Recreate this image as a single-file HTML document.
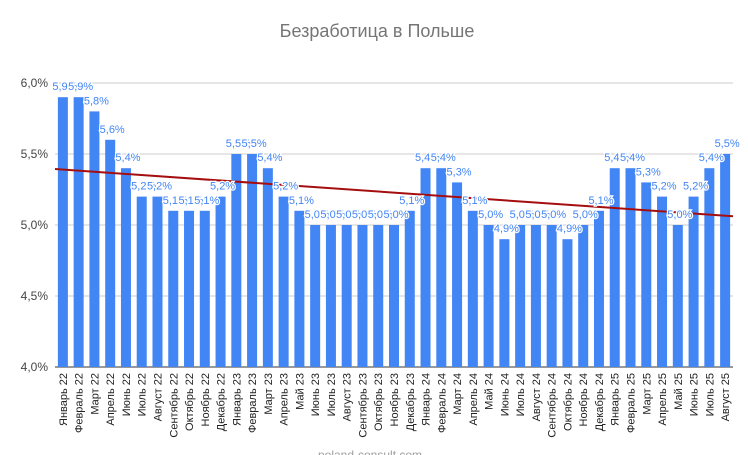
<!DOCTYPE html>
<html><head><meta charset="utf-8"><style>
body{margin:0;background:#fff}
svg{display:block;font-family:"Liberation Sans",Arial,sans-serif}
</style></head><body>
<svg id="c" width="748" height="455">
<text x="377" y="37" text-anchor="middle" font-size="18" fill="#757575">Безработица в Польше</text>
<g id="grid"></g><g id="bars"></g><g id="trend"></g><g id="labels"></g><g id="xl"></g>
<text x="370" y="459" text-anchor="middle" font-size="12" fill="#9e9e9e">poland-consult.com</text>
</svg>
<script>
const categories=["Январь 22","Февраль 22","Март 22","Апрель 22","Июнь 22","Июль 22","Август 22","Сентябрь 22","Октябрь 22","Ноябрь 22","Декабрь 22",
"Январь 23","Февраль 23","Март 23","Апрель 23","Май 23","Июнь 23","Июль 23","Август 23","Сентябрь 23","Октябрь 23","Ноябрь 23","Декабрь 23",
"Январь 24","Февраль 24","Март 24","Апрель 24","Май 24","Июнь 24","Июль 24","Август 24","Сентябрь 24","Октябрь 24","Ноябрь 24","Декабрь 24",
"Январь 25","Февраль 25","Март 25","Апрель 25","Май 25","Июнь 25","Июль 25","Август 25"];
const values=[5.9,5.9,5.8,5.6,5.4,5.2,5.2,5.1,5.1,5.1,5.2,
5.5,5.5,5.4,5.2,5.1,5.0,5.0,5.0,5.0,5.0,5.0,5.1,
5.4,5.4,5.3,5.1,5.0,4.9,5.0,5.0,5.0,4.9,5.0,5.1,
5.4,5.4,5.3,5.2,5.0,5.2,5.4,5.5];
const yTicks=[4.0,4.5,5.0,5.5,6.0];
const NS="http://www.w3.org/2000/svg";
const X0=55,X1=733,Y0=367,Y1=83,yMin=4,yMax=6;
const n=categories.length,step=(X1-X0)/n;
const xS=i=>X0+step*(i+0.5);
const yS=v=>Y0-(v-yMin)/(yMax-yMin)*(Y0-Y1);
const fmt=v=>v.toFixed(1).replace('.',',')+'%';
function mk(t,a,p){const e=document.createElementNS(NS,t);for(const k in a)e.setAttribute(k,a[k]);p.appendChild(e);return e;}
const g=document.getElementById('grid');
yTicks.forEach(t=>{
 const l=mk('line',{x1:X0,x2:X1,y1:yS(t),y2:yS(t),stroke:t===yMin?'#333':'#ccc','stroke-width':1},g);
 
 
 const tx=mk('text',{x:48,y:yS(t)+4,'text-anchor':'end','font-size':12,fill:'#444'},g);
 tx.textContent=fmt(t);
 
 
});
const b=document.getElementById('bars'),lb=document.getElementById('labels'),xl=document.getElementById('xl');
values.forEach((v,i)=>{
 const r=mk('rect',{x:xS(i)-5,y:yS(v),width:10,height:Y0-yS(v),fill:'#4285f4'},b);
 
 
 const t=mk('text',{x:xS(i)+2,y:yS(v)-7,'text-anchor':'middle','font-size':11,fill:'#4285f4',stroke:'#fff','stroke-width':2.5,'paint-order':'stroke'},lb);
 t.textContent=fmt(v);
 
 
 const c=mk('text',{transform:`translate(${xS(i)+4},373) rotate(-90)`,'text-anchor':'end','font-size':11,fill:'#222'},xl);
 c.textContent=categories[i];
 
 
});
// linear trend
let sx=0,sy=0,sxy=0,sxx=0;values.forEach((v,i)=>{sx+=i;sy+=v;sxy+=i*v;sxx+=i*i;});
const m=(n*sxy-sx*sy)/(n*sxx-sx*sx),c0=(sy-m*sx)/n;
const tl=mk('line',{x1:X0,y1:yS(c0+m*(-0.5)),x2:X1,y2:yS(c0+m*(n-0.5)),stroke:'#a50e0e','stroke-width':2},document.getElementById('trend'));


</script>
</body></html>
